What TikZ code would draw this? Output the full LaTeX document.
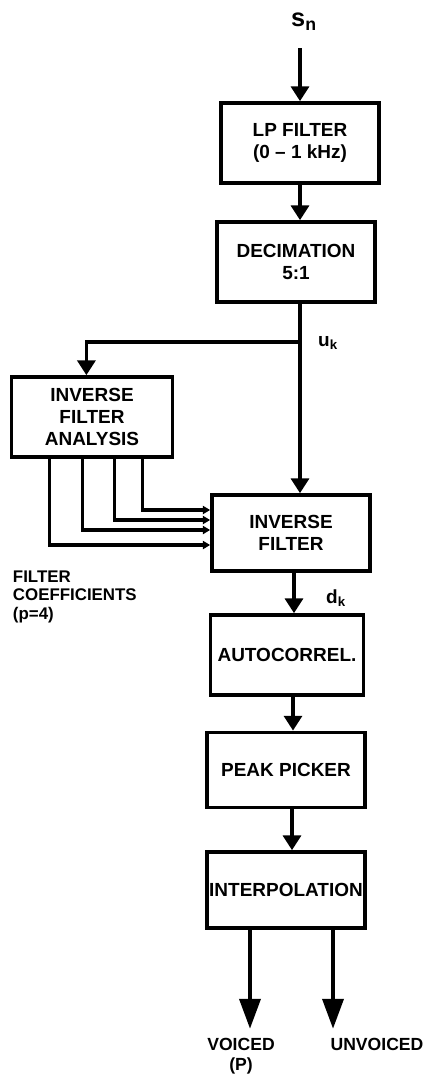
\documentclass[tikz,border=0pt]{standalone}
\usepackage{fontspec}
\setmainfont{Liberation Sans}
\usetikzlibrary{arrows.meta}

\begin{document}
\begin{tikzpicture}[x=0.025cm, y=-0.025cm,
	every node/.style={font=\bfseries\fontsize{13.5}{15.5}\selectfont},
	blk/.style={draw, line width=2.6pt, minimum width=3.95cm, minimum height=2cm, align=center, inner sep=1pt},
	flow/.style={line width=2.4pt, -{Triangle[width=0.45cm, length=0.37cm]}},
	coef/.style={line width=2.2pt, -{Triangle[width=0.2cm, length=0.18cm]}},
	outp/.style={line width=3pt, -{Triangle[width=0.52cm, length=0.75cm]}}]
	\useasboundingbox (0,0) rectangle (430,1080);
	% blocks
	\node[blk] (lp) at (300,143) {LP FILTER\\(0 -- 1 kHz)};
	\node[blk] (dec) at (296,262) {DECIMATION\\5:1};
	\node[blk, minimum width=4.02cm] (ifa) at (92,417) {INVERSE\\FILTER\\ANALYSIS};
	\node[blk, minimum height=1.9cm] (invf) at (291,533) {INVERSE\\FILTER};
	\node[blk, minimum width=3.82cm] (acor) at (287,655) {AUTOCORREL.};
	\node[blk, minimum height=1.88cm] (peak) at (286,770) {PEAK PICKER};
	\node[blk, minimum height=1.9cm] (intp) at (286,890) {INTERPOLATION};
	% labels
	\node (sn) at (304,22) {\fontsize{18}{20}\selectfont s\textsubscript{n}};
	\node (uk) at (328,343) {u\textsubscript{k}};
	\node (dk) at (336,598) {d\textsubscript{k}};
	\node[align=left, anchor=north west, font=\bfseries\fontsize{12}{13}\selectfont] (fc) at (8,566) {FILTER\\COEFFICIENTS\\(p=4)};
	\node[align=center, anchor=north, font=\bfseries\fontsize{12.5}{14.5}\selectfont] (vo) at (241,1033) {VOICED\\(P)};
	\node[anchor=north, font=\bfseries\fontsize{12.5}{14.5}\selectfont] (uv) at (377,1033) {UNVOICED};
	% connectors
	\coordinate (in) at (300,48);
	\coordinate (tap) at (300,342);
	\draw[flow] (in) -- (lp.north);
	\draw[flow] (lp.south) -- (lp.south |- dec.north);
	\draw[flow] (dec.south -| lp.south) -- (lp.south |- invf.north);
	\draw[flow] (tap) -| ([xshift=-0.14cm]ifa.north);
	\foreach \dx/\dy in {1.0/-0.3, 1.825/0.075, 2.625/0.325, 3.325/0.575}
		\draw[coef] ([xshift=\dx cm]ifa.south west) |- ([yshift=\dy cm]invf.west);
	\draw[flow] (invf.south) ++(3,0) coordinate (ia) -- (ia |- acor.north);
	\draw[flow] (acor.south) ++(6,0) coordinate (ib) -- (ib |- peak.north);
	\draw[flow] (peak.south) ++(6,0) coordinate (ic) -- (ic |- intp.north);
	\draw[outp] ([xshift=-0.9cm]intp.south) -- ++(0,99);
	\draw[outp] ([xshift=1.175cm]intp.south) -- ++(0,99);
\end{tikzpicture}
\end{document}
